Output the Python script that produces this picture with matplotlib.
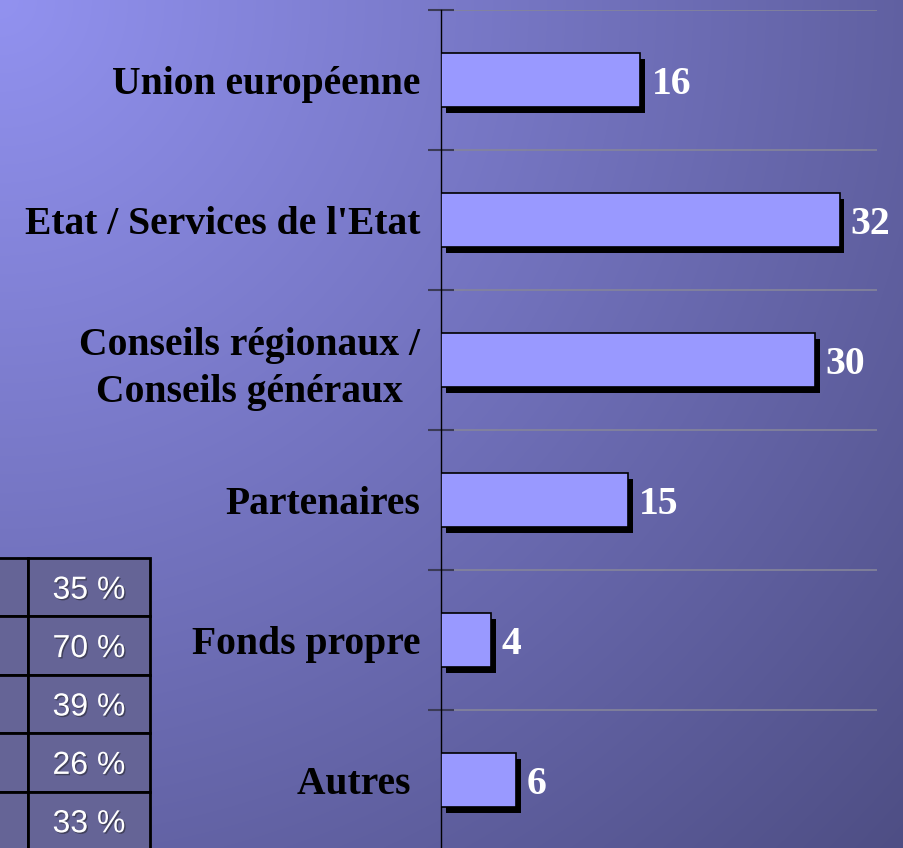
import matplotlib
matplotlib.use("Agg")
import matplotlib.pyplot as plt
import matplotlib.patheffects as pe
import numpy as np

# données
categories = ["Union européenne", "Etat / Services de l'Etat",
              "Conseils régionaux /\nConseils généraux", "Partenaires",
              "Fonds propre", "Autres "]
values = [16, 32, 30, 15, 4, 6]
table_pct = ["35 %", "70 %", "39 %", "26 %", "33 %"]

W, H = 904, 848
SERIF = "Liberation Serif"
SANS = "Liberation Sans"

fig = plt.figure(figsize=(W / 100, H / 100), dpi=100)

# fond en dégradé (clair en haut à gauche, sombre en bas à droite)
bg = fig.add_axes([0, 0, 1, 1], zorder=0)
yy, xx = np.mgrid[0:H, 0:W]
d = np.hypot(xx, yy) / np.hypot(W, H)
c0 = np.array([146, 146, 240]) / 255
c1 = np.array([78, 78, 132]) / 255
bg.imshow(c0 + (c1 - c0) * d[..., None], aspect='auto')
bg.axis('off')

# graphique en barres horizontales
ax = fig.add_axes([441 / W, (H - 850) / H, (877 - 441) / W, 840 / H], zorder=1)
ax.patch.set_alpha(0)
y = np.arange(len(values))
shadow = [pe.SimplePatchShadow(offset=(3.5, -4.2), shadow_rgbFace='black', alpha=1), pe.Normal()]
ax.barh(y, values, height=0.39, color='#9999FF', edgecolor='black', linewidth=1.2,
        path_effects=shadow, zorder=3)

ax.set_xlim(0, 35)
ax.set_ylim(5.5, -0.5)
ax.set_xticks([])

ax.set_yticks(np.arange(-0.5, len(values), 1))
ax.tick_params(axis='y', which='major', direction='inout', length=19, width=1.5,
               color='#3a3a55', labelleft=False)
ax.set_yticks(y, minor=True)
ax.set_yticklabels(categories, minor=True, fontsize=28.5, fontweight='bold', family=SERIF)
ax.tick_params(axis='y', which='minor', length=0, pad=15)
for lbl in ax.get_yticklabels(minor=True):
    lbl.set_multialignment('center')
    lbl.set_linespacing(1.35)

ax.grid(axis='y', which='major', color='#85859a', linewidth=1.2)
ax.set_axisbelow(True)
for s in ['top', 'right', 'bottom']:
    ax.spines[s].set_visible(False)
ax.spines['left'].set_color('black')
ax.spines['left'].set_linewidth(1)

for v, yi in zip(values, y):
    ax.annotate(str(v), (v, yi), xytext=(8, 0), textcoords='offset points',
                ha='left', va='center_baseline', color='white', fontsize=28.5,
                fontweight='bold', family=SERIF)

# tableau en bas à gauche (colonne de gauche coupée)
tax = fig.add_axes([-100 / W, (H - 850) / H, 250 / W, (850 - 558) / H], zorder=2)
tax.axis('off')
tbl = tax.table(cellText=[['', p] for p in table_pct], colWidths=[128 / 250, 122 / 250],
                bbox=[0, 0, 1, 1], cellLoc='center')
tbl.auto_set_font_size(False)
for (r, c), cell in tbl.get_celld().items():
    cell.set_facecolor('#656496')
    cell.set_edgecolor('black')
    cell.set_linewidth(2)
    t = cell.get_text()
    t.set_color('white')
    t.set_fontsize(23)
    t.set_family(SANS)
    t.set_va('center_baseline')
    t.set_path_effects([pe.SimplePatchShadow(offset=(1, -1), shadow_rgbFace='#333344', alpha=0.7),
                        pe.Normal()])

fig.savefig('out.png', dpi=100)
